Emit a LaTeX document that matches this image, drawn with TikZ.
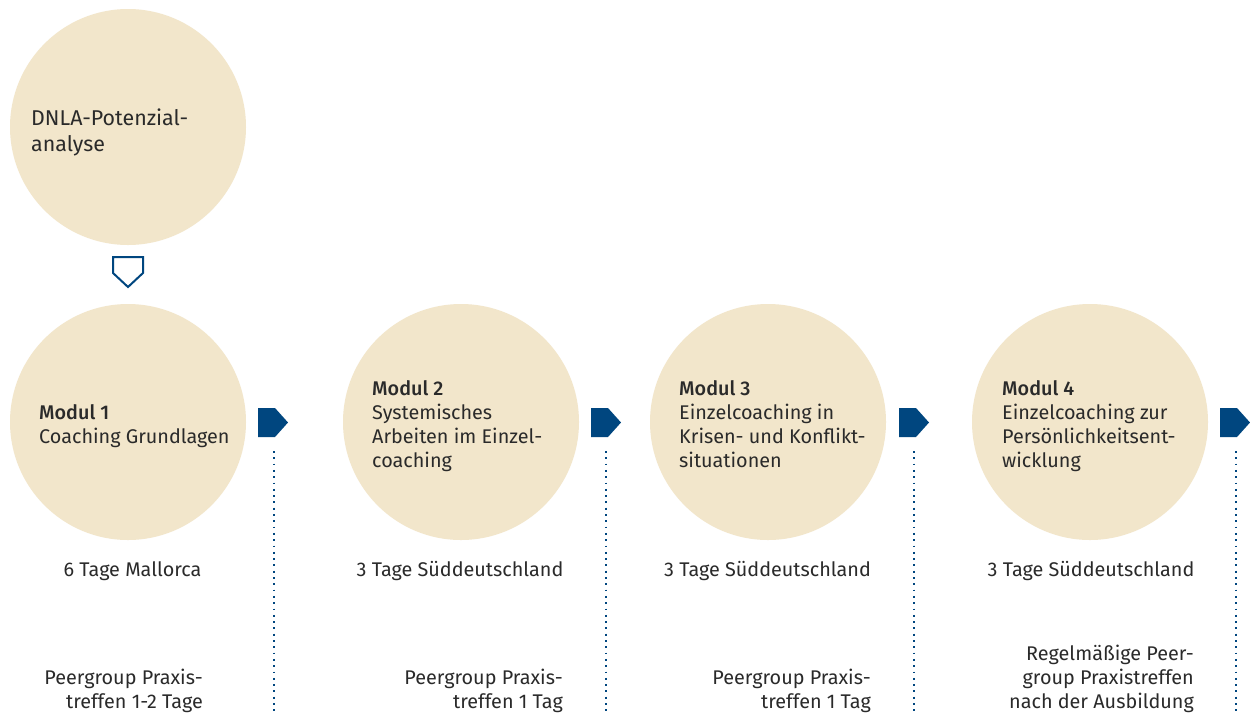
\documentclass[tikz,border=0pt]{standalone}
\usepackage{fontspec}
\setmainfont{Fira Sans}[BoldFont={Fira Sans Medium}]
\definecolor{beige}{HTML}{F2E6CB}
\definecolor{navy}{HTML}{00467F}
\definecolor{ink}{HTML}{2A2A2A}
\tikzset{
  disc/.style={circle,fill=beige,minimum size=236pt,inner sep=0pt},
  txt/.style={text=ink,inner sep=0pt,font=\fontsize{19.8}{24}\selectfont},
  lbl/.style={txt,align=left,anchor=base west},
  rlbl/.style={txt,align=right,anchor=base east},
  clbl/.style={txt,anchor=base},
  dots/.style={navy,line width=1.8pt,dash pattern=on 1.8pt off 4.5pt},
  fwd/.pic={\fill[navy] (0,-14.5) -- (17,-14.5) -- (30,0) -- (17,14.5) -- (0,14.5) -- cycle;},
  down/.pic={\draw[navy,line width=2pt,line join=miter] (-15,0) -- (15,0) -- (15,16) -- (0,30) -- (-15,16) -- cycle;}
}
\begin{document}
\begin{tikzpicture}[x=1pt,y=-1pt]
\useasboundingbox[fill=white] (0,0) rectangle (1250,713);

% circles
\node[disc] (c0) at (128,127) {};
\node[disc] (c1) at (128,422) {};
\node[disc] (c2) at (461,422) {};
\node[disc] (c3) at (768,422) {};
\node[disc] (c4) at (1090,422) {};

% circle texts (anchor = baseline of last line)
\node[lbl,font=\fontsize{21.4}{26}\selectfont] (t0) at (31,151) {DNLA-Potenzial-\\analyse};
\node[lbl] (t1) at (39,443) {\textbf{Modul 1}\\Coaching Grundlagen};
\node[lbl] (t2) at (372,467) {\textbf{Modul 2}\\Systemisches\\Arbeiten im Einzel-\\coaching};
\node[lbl] (t3) at (679,467) {\textbf{Modul 3}\\Einzelcoaching in\\Krisen- und Konflikt-\\situationen};
\node[lbl] (t4) at (1002,467) {\textbf{Modul 4}\\Einzelcoaching zur\\Persönlichkeitsent-\\wicklung};

% durations
\node[clbl] (d1) at (132.5,576) {6 Tage Mallorca};
\node[clbl] (d2) at (460,576) {3 Tage Süddeutschland};
\node[clbl] (d3) at (767.5,576) {3 Tage Süddeutschland};
\node[clbl] (d4) at (1091,576) {3 Tage Süddeutschland};

% peer group texts
\node[rlbl] (p1) at (203,708) {Peergroup Praxis-\\treffen 1-2 Tage};
\node[rlbl] (p2) at (563,708) {Peergroup Praxis-\\treffen 1 Tag};
\node[rlbl] (p3) at (871,708) {Peergroup Praxis-\\treffen 1 Tag};
\node[rlbl] (p4) at (1194,708) {Regelmäßige Peer-\\group Praxistreffen\\nach der Ausbildung};

% markers
\pic at (128,257) {down};
\pic at (258,422.5) {fwd};
\pic at (591,422.5) {fwd};
\pic at (899,422.5) {fwd};
\pic at (1220,422.5) {fwd};

% dotted lines
\coordinate (s1) at (274,451); \coordinate (e1) at (274,713);
\coordinate (s2) at (606,451); \coordinate (e2) at (606,713);
\coordinate (s3) at (914,451); \coordinate (e3) at (914,713);
\coordinate (s4) at (1236,451); \coordinate (e4) at (1236,713);
\draw[dots] (s1) -- (e1);
\draw[dots] (s2) -- (e2);
\draw[dots] (s3) -- (e3);
\draw[dots] (s4) -- (e4);
\end{tikzpicture}
\end{document}
